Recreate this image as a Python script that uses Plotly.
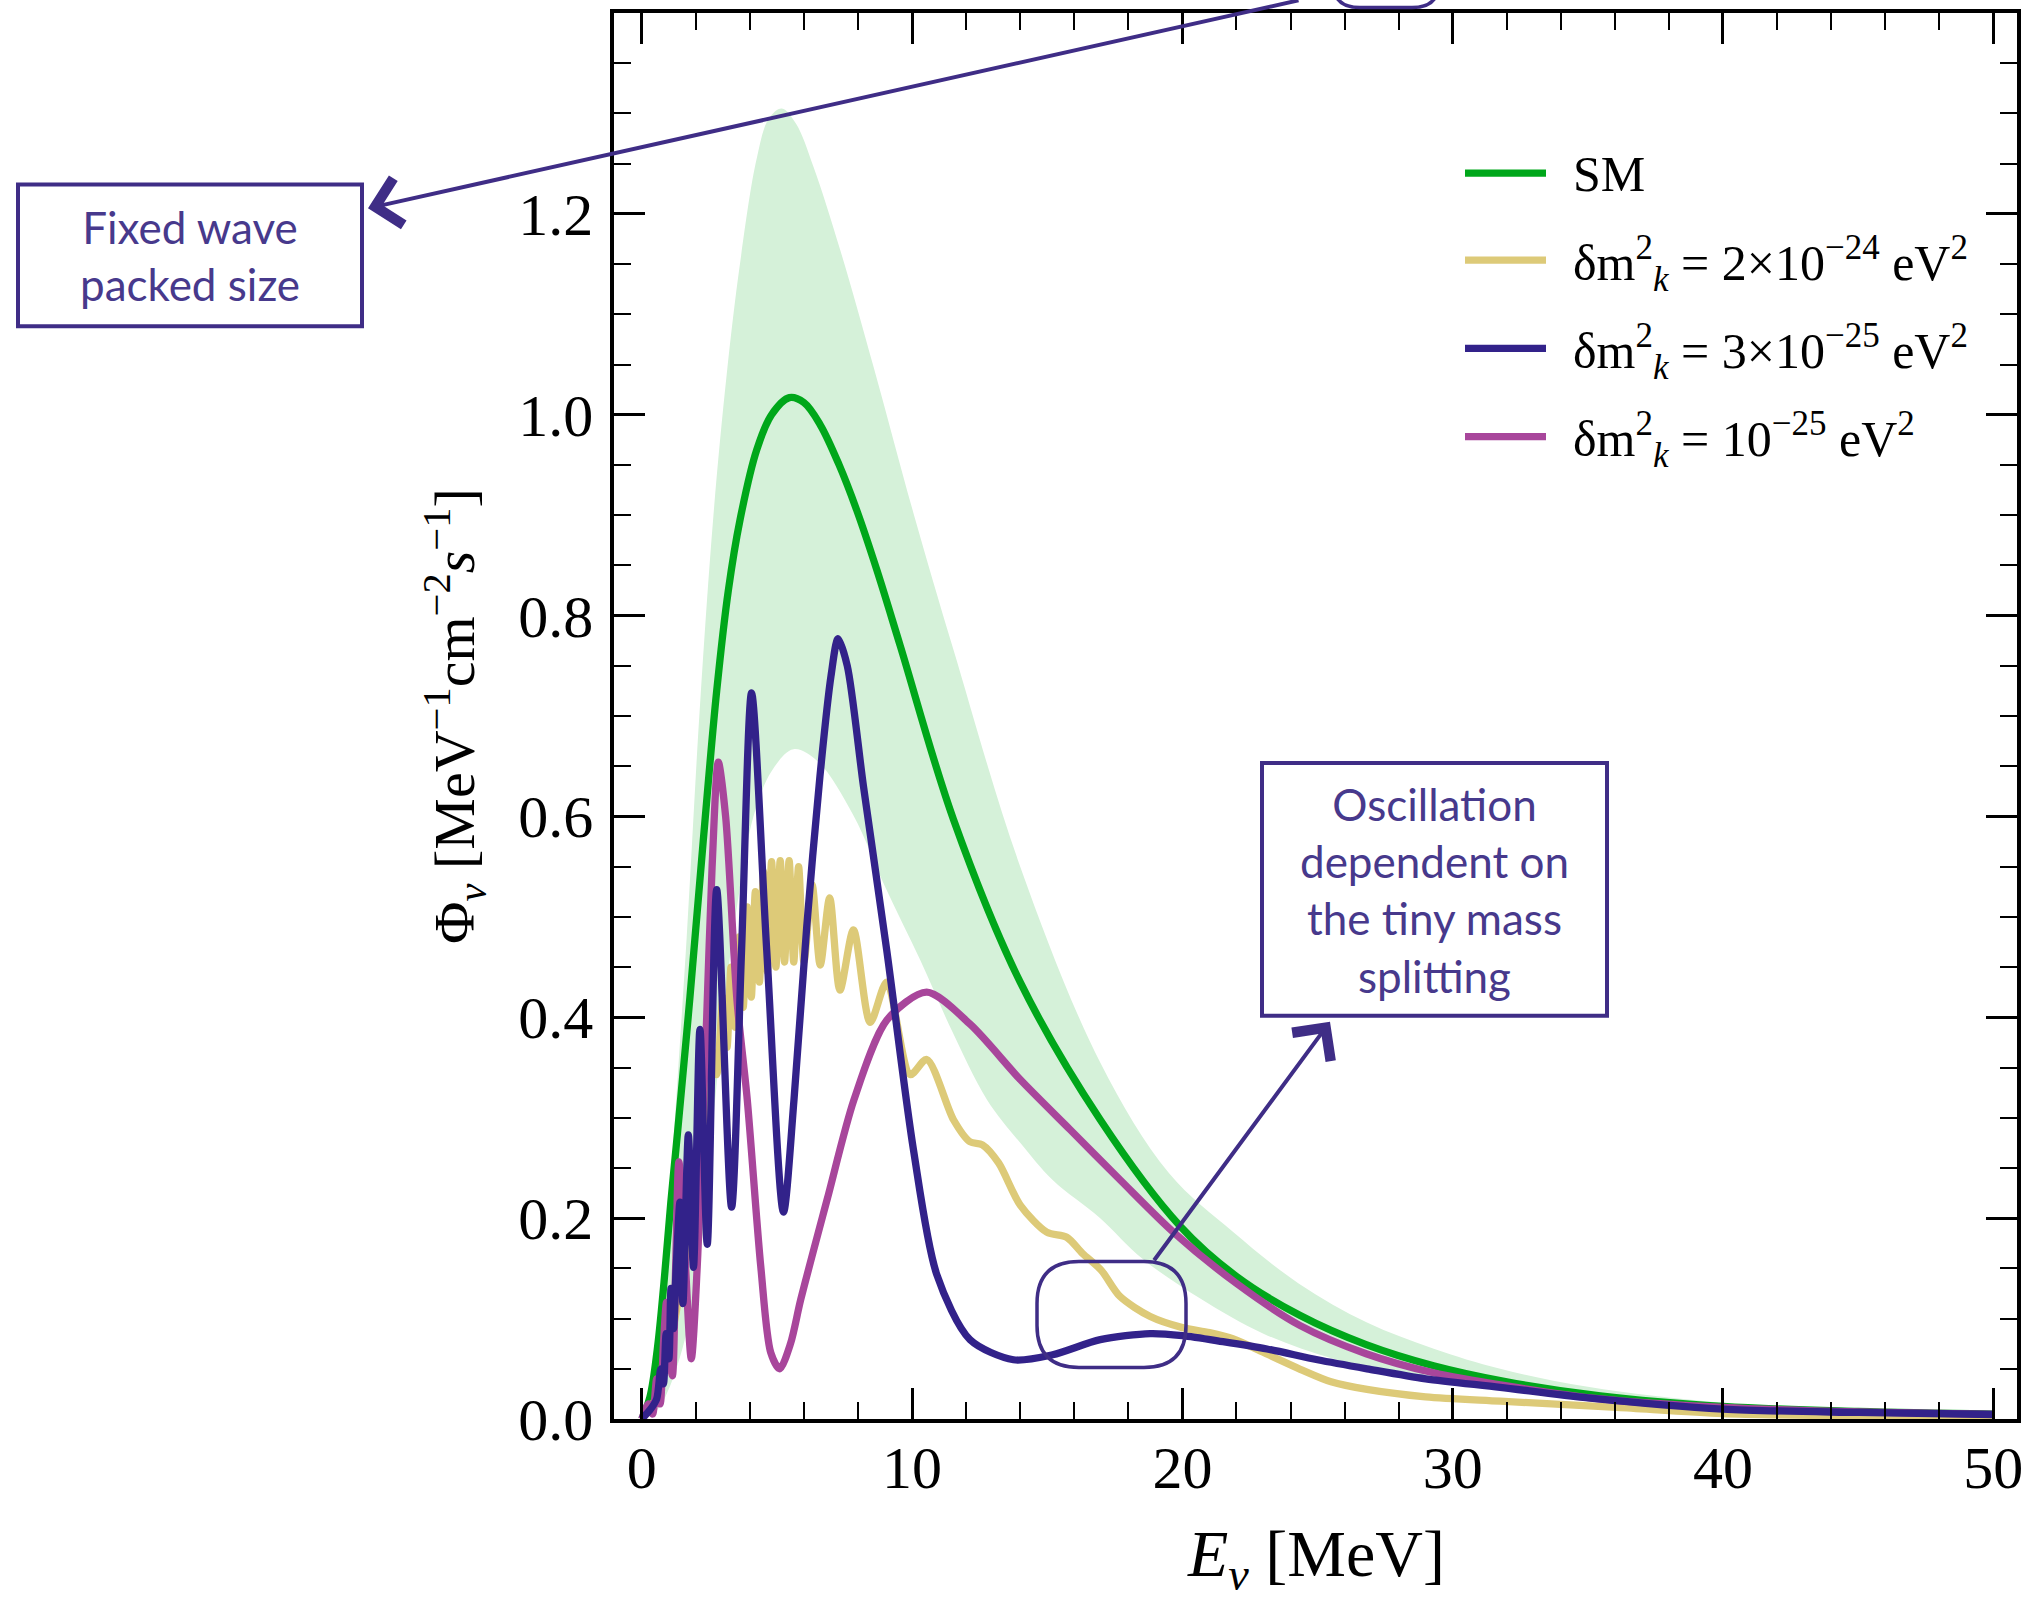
import plotly.graph_objects as go

# ---------------- data ----------------
sm_x = [0, 0.3, 0.57, 0.82, 1.07, 1.32, 1.78, 2.27, 2.77, 3.2, 3.63, 4.25, 4.8, 5.46, 6.0, 6.6,
        7.3, 7.95, 8.7, 9.56, 11.53, 14.0, 16.96, 19.92, 22.0, 24.36, 26.8, 29.29, 32.0, 35.46,
        40, 45, 50]
sm_y = [0, 0.022, 0.069, 0.136, 0.215, 0.285, 0.42, 0.575, 0.725, 0.825, 0.895, 0.965, 1.0,
        1.017, 1.012, 0.99, 0.95, 0.905, 0.845, 0.77, 0.597, 0.435, 0.298, 0.192, 0.142, 0.103,
        0.074, 0.053, 0.037, 0.023, 0.0125, 0.0075, 0.0048]

band_hi_x = [0, 0.5, 0.97, 1.25, 1.66, 2.15, 2.65, 3.14, 3.63, 4.25, 4.7, 5.18, 5.7, 6.35, 7.34,
             8.57, 10.05, 11.53, 14.0, 16.96, 19.5, 21.89, 24.3, 26.83, 29.3, 31.76, 35, 40, 45, 50]
band_hi_y = [0, 0.06, 0.2, 0.31, 0.48, 0.71, 0.9, 1.04, 1.15, 1.255, 1.295, 1.305, 1.29, 1.247,
             1.164, 1.048, 0.902, 0.766, 0.55, 0.355, 0.245, 0.186, 0.135, 0.096, 0.07, 0.05,
             0.032, 0.016, 0.009, 0.0055]

band_lo_x = [0, 0.6, 1.0, 1.5, 2.0, 2.28, 2.65, 3.26, 3.7, 4.13, 4.8, 5.61, 6.5, 7.83, 9.0, 10.3,
             11.5, 12.77, 14.0, 15.2, 16.96, 18.5, 20.66, 23.0, 25.59, 28.0, 30.5, 35, 40, 45, 50]
band_lo_y = [0, 0.01, 0.03, 0.07, 0.13, 0.19, 0.3, 0.46, 0.54, 0.6, 0.645, 0.667, 0.655, 0.601,
             0.53, 0.457, 0.385, 0.318, 0.275, 0.238, 0.2, 0.16, 0.12, 0.085, 0.06, 0.046, 0.035,
             0.02, 0.011, 0.006, 0.0035]

y24_x = [0, 0.5, 1.0, 1.5, 2.0, 2.35, 2.55, 2.77, 3.0, 3.15, 3.3, 3.45, 3.6, 3.75, 3.9, 4.05, 4.2,
         4.35, 4.5, 4.65, 4.8, 4.96, 5.12, 5.28, 5.45, 5.62, 5.8, 6.0, 6.3, 6.6, 6.95, 7.33, 7.83,
         8.45, 9.06, 9.93, 10.54, 11.53, 12.14, 12.6, 13.2, 14.0, 14.98, 15.72, 16.3, 17.0, 17.69,
         18.81, 20.0, 21.0, 21.89, 23.1, 24.36, 25.5, 26.83, 29.0, 31.76, 36.08, 40, 45, 50]
y24_y = [0, 0.02, 0.07, 0.14, 0.22, 0.31, 0.37, 0.343, 0.42, 0.37, 0.45, 0.39, 0.48, 0.41, 0.51,
         0.42, 0.525, 0.435, 0.545, 0.445, 0.555, 0.45, 0.556, 0.455, 0.556, 0.455, 0.55, 0.455,
         0.532, 0.452, 0.519, 0.427, 0.487, 0.395, 0.435, 0.343, 0.358, 0.298, 0.276, 0.273, 0.255,
         0.213, 0.186, 0.181, 0.165, 0.148, 0.122, 0.102, 0.091, 0.086, 0.0796, 0.065, 0.0495,
         0.037, 0.0294, 0.022, 0.0177, 0.0116, 0.0055, 0.003, 0.0015]

y25b_x = [0, 0.33, 0.55, 0.7, 0.8, 0.9, 1.0, 1.08, 1.17, 1.27, 1.41, 1.52, 1.72, 1.91, 2.15, 2.42,
          2.77, 3.32, 3.69, 4.06, 4.62, 5.24, 5.63, 6.1, 6.59, 7.0, 7.26, 7.6, 8.2, 9.06, 10.05,
          10.91, 12.14, 13.75, 15.2, 16.96, 18.81, 20.0, 21.5, 23.13, 25.0, 26.83, 29.0, 31.76,
          35.0, 40, 45, 50]
y25b_y = [0, 0.01, 0.02, 0.05, 0.035, 0.085, 0.06, 0.13, 0.09, 0.15, 0.216, 0.115, 0.283, 0.151,
          0.388, 0.174, 0.527, 0.211, 0.467, 0.723, 0.467, 0.206, 0.318, 0.49, 0.64, 0.74, 0.777,
          0.75, 0.63, 0.467, 0.268, 0.144, 0.079, 0.059, 0.064, 0.079, 0.085, 0.083, 0.077, 0.0697,
          0.059, 0.05, 0.04, 0.0315, 0.021, 0.0098, 0.0065, 0.0045]

y25_x = [0, 0.25, 0.4, 0.55, 0.68, 0.8, 0.91, 1.0, 1.13, 1.25, 1.37, 1.6, 1.83, 2.05, 2.2, 2.4, 2.6,
         2.83, 3.1, 3.52, 3.9, 4.4, 4.77, 5.1, 5.5, 5.88, 6.86, 7.85, 9.06, 10.54, 12.15, 14.0,
         15.85, 17.7, 19.67, 22.0, 24.36, 26.8, 29.29, 32.0, 35.46, 40, 45, 50]
y25_y = [0, 0.015, 0.005, 0.04, 0.015, 0.075, 0.116, 0.07, 0.043, 0.15, 0.256, 0.16, 0.06, 0.152,
         0.26, 0.4, 0.55, 0.654, 0.6, 0.417, 0.318, 0.152, 0.066, 0.05, 0.075, 0.119, 0.219, 0.318,
         0.397, 0.425, 0.393, 0.338, 0.288, 0.238, 0.186, 0.135, 0.093, 0.065, 0.046, 0.033, 0.02,
         0.0115, 0.007, 0.0047]

x_ticks = [0, 10, 20, 30, 40, 50]
y_ticks = [0.0, 0.2, 0.4, 0.6, 0.8, 1.0, 1.2]
y_tick_text = ["0.0", "0.2", "0.4", "0.6", "0.8", "1.0", "1.2"]

x_title = "<i>E</i><sub><i>ν</i></sub> [MeV]"
y_title = "Φ<sub><i>ν</i></sub> [MeV<sup>−1</sup>cm<sup>−2</sup><i>s</i><sup>−1</sup>]"

legend_labels = [
    "SM",
    "δm<sup>2</sup><sub><i>k</i></sub> = 2×10<sup>−24</sup> eV<sup>2</sup>",
    "δm<sup>2</sup><sub><i>k</i></sub> = 3×10<sup>−25</sup> eV<sup>2</sup>",
    "δm<sup>2</sup><sub><i>k</i></sub> = 10<sup>−25</sup> eV<sup>2</sup>",
]

for a, b in [(sm_x, sm_y), (band_hi_x, band_hi_y), (band_lo_x, band_lo_y), (y24_x, y24_y),
             (y25b_x, y25b_y), (y25_x, y25_y)]:
    assert len(a) == len(b), (len(a), len(b))

# ---------------- styling ----------------
GREEN = "#00A71A"
YELLOW = "#DDCA78"
BLUE = "#32228A"
MAGENTA = "#A8469B"
BAND = "#D5F1D9"
INK = "#47398C"
BORDER = "#3F2D86"
SERIF = "Liberation Serif"
SANS = "Lato"
LW = 7.3

W, H = 2037, 1598
L, R, T, B = 614, 20, 12.5, 178.5
PW, PH = W - L - R, H - T - B


def px(xp):
    return (xp - L) / PW


def py(yp):
    return (H - B - yp) / PH


def P(xp, yp):
    return f"{px(xp):.5f},{py(yp):.5f}"


fig = go.Figure()
fig.add_trace(go.Scatter(x=band_lo_x, y=band_lo_y, mode="lines",
                         line=dict(width=0, shape="spline", smoothing=1.0),
                         showlegend=False, hoverinfo="skip"))
fig.add_trace(go.Scatter(x=band_hi_x, y=band_hi_y, mode="lines",
                         line=dict(width=0, shape="spline", smoothing=1.0),
                         fill="tonexty", fillcolor=BAND, showlegend=False, hoverinfo="skip"))

series = [
    (legend_labels[0], sm_x, sm_y, GREEN, 1.0),
    (legend_labels[1], y24_x, y24_y, YELLOW, 0.8),
    (legend_labels[3], y25_x, y25_y, MAGENTA, 0.8),
    (legend_labels[2], y25b_x, y25b_y, BLUE, 0.8),
]
for name, xs, ys, col, sm in series:
    fig.add_trace(go.Scatter(x=xs, y=ys, mode="lines", name=name, showlegend=False,
                             line=dict(color=col, width=LW, shape="spline", smoothing=sm)))

axis_common = dict(
    showline=True, linecolor="black", linewidth=3.5, mirror="allticks",
    ticks="inside", ticklen=31, tickwidth=2.5, tickcolor="black",
    showgrid=False, zeroline=False, automargin=False,
    tickfont=dict(family=SERIF, size=60, color="black"),
)

fig.update_xaxes(
    range=[-1.03, 50.88], tickmode="array", tickvals=x_ticks,
    minor=dict(ticks="inside", ticklen=17, tickwidth=2, tickcolor="black",
               tickmode="linear", tick0=0, dtick=2),
    ticklabelstandoff=-7,
    **axis_common,
)
fig.update_yaxes(
    range=[0, 1.4], tickmode="array", tickvals=y_ticks, ticktext=y_tick_text,
    minor=dict(ticks="inside", ticklen=17, tickwidth=2, tickcolor="black",
               tickmode="linear", tick0=0, dtick=0.05),
    ticklabelstandoff=5,
    title=dict(text=y_title, font=dict(family=SERIF, size=58, color="black"), standoff=26),
    **axis_common,
)

shapes = []
# annotation boxes
shapes.append(dict(type="rect", xref="paper", yref="paper",
                   x0=px(18), x1=px(362), y0=py(326), y1=py(184),
                   line=dict(color=BORDER, width=4)))
shapes.append(dict(type="rect", xref="paper", yref="paper",
                   x0=px(1262), x1=px(1607), y0=py(1016), y1=py(763),
                   line=dict(color=BORDER, width=4)))


def rrect(x0, y0, x1, y1, r):
    return ("M" + P(x0 + r, y0) + " L" + P(x1 - r, y0) + " Q" + P(x1, y0) + " " + P(x1, y0 + r) +
            " L" + P(x1, y1 - r) + " Q" + P(x1, y1) + " " + P(x1 - r, y1) +
            " L" + P(x0 + r, y1) + " Q" + P(x0, y1) + " " + P(x0, y1 - r) +
            " L" + P(x0, y0 + r) + " Q" + P(x0, y0) + " " + P(x0 + r, y0) + " Z")


shapes.append(dict(type="path", xref="paper", yref="paper", path=rrect(1037, 1262, 1186, 1368, 42),
                   line=dict(color=BORDER, width=3.5)))
# fragment of a loop cut off at the top edge
top_path = ("M" + P(1334, -40) + " L" + P(1334, -15) + " Q" + P(1334, 7) + " " + P(1360, 7) +
            " L" + P(1412, 7) + " Q" + P(1438, 7) + " " + P(1438, -15) + " L" + P(1438, -40))
shapes.append(dict(type="path", xref="paper", yref="paper", path=top_path,
                   line=dict(color=BORDER, width=3.5)))

annotations = [
    # x-axis title, placed lower than plotly's margin-constrained title position
    dict(xref="paper", yref="paper", x=0.5, y=py(1559), text=x_title, showarrow=False,
         xanchor="center", yanchor="middle", font=dict(family=SERIF, size=66, color="black")),
    dict(xref="paper", yref="paper", x=px(190), y=py(255), text="Fixed wave<br>packed size",
         showarrow=False, xanchor="center", yanchor="middle",
         font=dict(family=SANS, size=44, color=INK)),
    dict(xref="paper", yref="paper", x=px(1434), y=py(890),
         text="Oscillation<br>dependent on<br>the tiny mass<br>splitting",
         showarrow=False, xanchor="center", yanchor="middle",
         font=dict(family=SANS, size=44, color=INK)),
    dict(xref="paper", yref="paper", x=px(368), y=py(208), text="", showarrow=True,
         axref="pixel", ayref="pixel", ax=932, ay=-231, arrowhead=4, arrowsize=2.3,
         arrowwidth=4, arrowcolor=BORDER, standoff=0),
    dict(xref="paper", yref="paper", x=px(1330), y=py(1022), text="", showarrow=True,
         axref="pixel", ayref="pixel", ax=-177, ay=240, arrowhead=4, arrowsize=2.3,
         arrowwidth=4, arrowcolor=BORDER, standoff=0),
]

# legend (key lines + labels)
legend_rows = [172.8, 259.8, 348.2, 436.5]
legend_dy = [1, 3, 3, 3]
legend_cols = [GREEN, YELLOW, BLUE, MAGENTA]
for yrow, dy, col, lab in zip(legend_rows, legend_dy, legend_cols, legend_labels):
    shapes.append(dict(type="line", xref="paper", yref="paper",
                       x0=px(1465), x1=px(1546), y0=py(yrow), y1=py(yrow),
                       line=dict(color=col, width=LW)))
    annotations.append(dict(xref="paper", yref="paper", x=px(1571), y=py(yrow + dy),
                            text=lab, showarrow=False, xanchor="left", yanchor="middle",
                            font=dict(family=SERIF, size=50, color="black")))

fig.update_layout(
    width=W, height=H, autosize=False,
    margin=dict(l=L, r=R, t=T, b=B, pad=0),
    paper_bgcolor="white", plot_bgcolor="white",
    showlegend=False,
    shapes=shapes, annotations=annotations,
)

fig.write_html("out.html")
